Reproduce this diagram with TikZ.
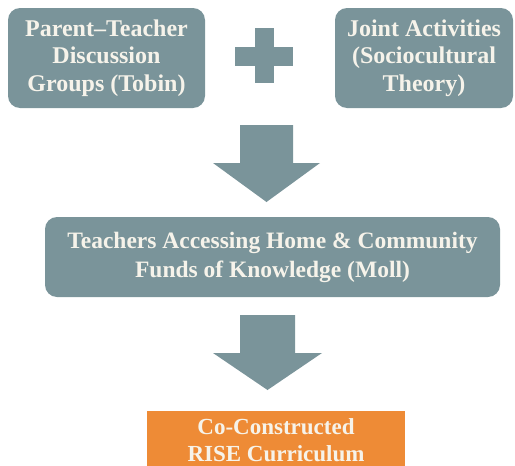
\documentclass[tikz,border=0pt]{standalone}
\usepackage{fontspec}
\setmainfont{Liberation Serif}
\usetikzlibrary{calc}
\begin{document}
\definecolor{slate}{HTML}{7A949A}
\definecolor{amber}{HTML}{EE8B36}
\definecolor{cream}{HTML}{F6F3EA}
\begin{tikzpicture}[x=1pt,y=-1pt,
  slatebox/.style={fill=slate,rounded corners=12pt,inner sep=0pt,
    text=cream,font=\bfseries\fontsize{24}{27.5}\selectfont,align=center},
  blockfill/.style={fill=slate}]
\useasboundingbox (0,0) rectangle (515,466);
% top row: two sources joined by a plus sign
\node[slatebox,minimum width=197pt,minimum height=100pt] (ptd) at (106.5,58)
  {Parent–Teacher\\Discussion\\Groups (Tobin)};
\node[slatebox,minimum width=178pt,minimum height=100pt] (joint) at (424,58)
  {Joint Activities\\(Sociocultural\\Theory)};
\node[fill=slate,minimum width=58pt,minimum height=19pt,inner sep=0pt] (plush) at (264,56) {};
\node[fill=slate,minimum width=19pt,minimum height=55pt,inner sep=0pt] (plusv) at (264.5,55.5) {};
% middle stage
\node[slatebox,minimum width=455pt,minimum height=80pt,
  font=\bfseries\fontsize{23.5}{29}\selectfont] (funds) at (272.5,257)
  {Teachers Accessing Home \& Community\\Funds of Knowledge (Moll)};
% outcome
\node[fill=amber,minimum width=258pt,minimum height=58pt,inner sep=0pt,
  text=cream,font=\bfseries\fontsize{23}{27}\selectfont,align=center,
  anchor=north] (rise) at (276,411)
  {Co-Constructed\\RISE Curriculum};
% block arrows between the stages
\coordinate (a1) at (266.5,125);
\coordinate (a2) at (267.5,315);
\fill[blockfill] (a1) ++(-26.5,0) -- ++(53,0) -- ++(0,38) -- ++(27,0)
  -- ($(a1)+(0,77)$) -- ($(a1)+(-53.5,38)$) -- ++(27,0) -- cycle;
\fill[blockfill] (a2) ++(-27.5,0) -- ++(55,0) -- ++(0,38) -- ++(27,0)
  -- ($(a2)+(0,75)$) -- ($(a2)+(-54.5,38)$) -- ++(27,0) -- cycle;
\end{tikzpicture}
\end{document}
